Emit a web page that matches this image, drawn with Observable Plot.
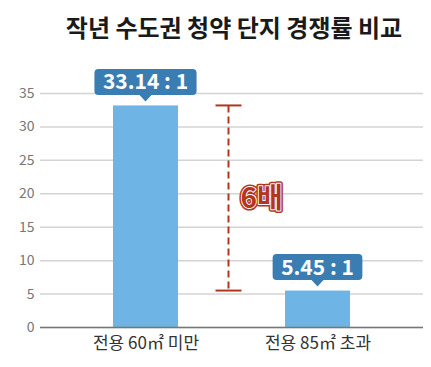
<!DOCTYPE html>
<html><head><meta charset="utf-8">
<script src="https://cdn.jsdelivr.net/npm/d3@7"></script>
<script src="https://cdn.jsdelivr.net/npm/@observablehq/plot@0.6"></script>
<style>
body{margin:0;background:#fff;font-family:"Noto Sans CJK KR","Noto Sans",sans-serif;}
#title{height:55px;line-height:53px;font-size:24px;font-weight:bold;color:#1a1a1a;text-align:center;padding-left:37px;box-sizing:border-box;width:431px;}
</style></head>
<body>
<div id="title">작년 수도권 청약 단지 경쟁률 비교</div>
<div id="chart"></div>
<script>
const categories = ["전용 60㎡ 미만", "전용 85㎡ 초과"];
const rates = [33.14, 5.45];
const rateLabels = ["33.14 : 1", "5.45 : 1"];
const yTicks = [0, 5, 10, 15, 20, 25, 30, 35];
const ratioLabel = "6배";

const data = categories.map((c, i) => ({cat: c, value: rates[i], label: rateLabels[i]}));
const FONT = '"Noto Sans CJK KR","Noto Sans",sans-serif';
const barColor = "#6eb5e5";
const boxColor = "#3a7db2";
const red = "#b3361d";

const cv = document.createElement("canvas").getContext("2d");
cv.font = `bold 21px ${FONT}`;

function labelBoxes(index, scales, values, dimensions, context) {
  const doc = context && context.document ? context.document : document;
  const ns = "http://www.w3.org/2000/svg";
  const g = doc.createElementNS(ns, "g");
  const x = scales.x, y = scales.y;
  const bw = x.bandwidth();
  data.forEach(d => {
    const cx = x(d.cat) + bw / 2;
    const top = y(d.value);
    const tw = cv.measureText(d.label).width;
    const w = tw + 17, h = 26, r = 4;
    const bottom = top - 10.5, tip = top - 4, ty = bottom - h;
    const L = cx - w / 2, R = cx + w / 2;
    const p = `M${L + r},${ty} H${R - r} Q${R},${ty} ${R},${ty + r} V${bottom - r} Q${R},${bottom} ${R - r},${bottom} H${cx + 6} L${cx},${tip} L${cx - 6},${bottom} H${L + r} Q${L},${bottom} ${L},${bottom - r} V${ty + r} Q${L},${ty} ${L + r},${ty} Z`;
    const path = doc.createElementNS(ns, "path");
    path.setAttribute("d", p);
    path.setAttribute("fill", boxColor);
    g.appendChild(path);
    const t = doc.createElementNS(ns, "text");
    t.setAttribute("x", cx);
    t.setAttribute("y", ty + h / 2);
    t.setAttribute("dy", "0.36em");
    t.setAttribute("text-anchor", "middle");
    t.setAttribute("fill", "#fff");
    t.setAttribute("font-size", "21");
    t.setAttribute("font-weight", "bold");
    t.setAttribute("font-family", FONT);
    t.textContent = d.label;
    g.appendChild(t);
  });
  // bracket
  const bx = (x(categories[0]) + bw + x(categories[1])) / 2 - 3;
  const y1 = y(rates[0]), y2 = y(rates[1]);
  const mk = (tag, attrs) => { const e = doc.createElementNS(ns, tag); for (const k in attrs) e.setAttribute(k, attrs[k]); g.appendChild(e); return e; };
  mk("line", {x1: bx, x2: bx, y1: y1, y2: y2, stroke: red, "stroke-width": 2, "stroke-dasharray": "7,4"});
  mk("line", {x1: bx - 13, x2: bx + 13, y1: y1, y2: y1, stroke: red, "stroke-width": 2});
  mk("line", {x1: bx - 13, x2: bx + 13, y1: y2, y2: y2, stroke: red, "stroke-width": 2});
  const my = y((rates[0] + rates[1]) / 2);
  const t1 = mk("text", {x: bx + 12, y: my, dy: "0.36em", "text-anchor": "start", fill: red, stroke: red, "stroke-width": 5, "stroke-linejoin": "round", "font-size": 28, "font-weight": "bold", "font-family": FONT});
  t1.textContent = ratioLabel;
  const t2 = mk("text", {x: bx + 12, y: my, dy: "0.36em", "text-anchor": "start", fill: red, stroke: "#fff", "stroke-width": 1.8, "paint-order": "stroke", "stroke-linejoin": "round", "font-size": 28, "font-weight": "bold", "font-family": FONT});
  t2.textContent = ratioLabel;
  return g;
}

const chart = Plot.plot({
  width: 431,
  height: 312,
  marginLeft: 40,
  marginRight: 8,
  marginTop: 38,
  marginBottom: 40,
  style: {fontFamily: FONT, background: "#fff"},
  x: {domain: categories, padding: 0.62, paddingOuter: 0.42, axis: null},
  y: {domain: [0, 35], axis: null},
  marks: [
    Plot.gridY(yTicks, {stroke: "#d4d4d4", strokeOpacity: 1, strokeWidth: 1.5}),
    Plot.axisY(yTicks, {tickSize: 0, tickPadding: 6, fontSize: 14, color: "#777", label: null, tickFormat: d => String(d)}),
    Plot.barY(data, {x: "cat", y: "value", fill: barColor}),
    Plot.ruleY([0], {stroke: "#777", strokeWidth: 1.5}),
    Plot.axisX({tickSize: 0, tickPadding: 9, fontSize: 17, color: "#333", label: null}),
    labelBoxes
  ]
});
document.getElementById("chart").appendChild(chart);
</script>
</body></html>
